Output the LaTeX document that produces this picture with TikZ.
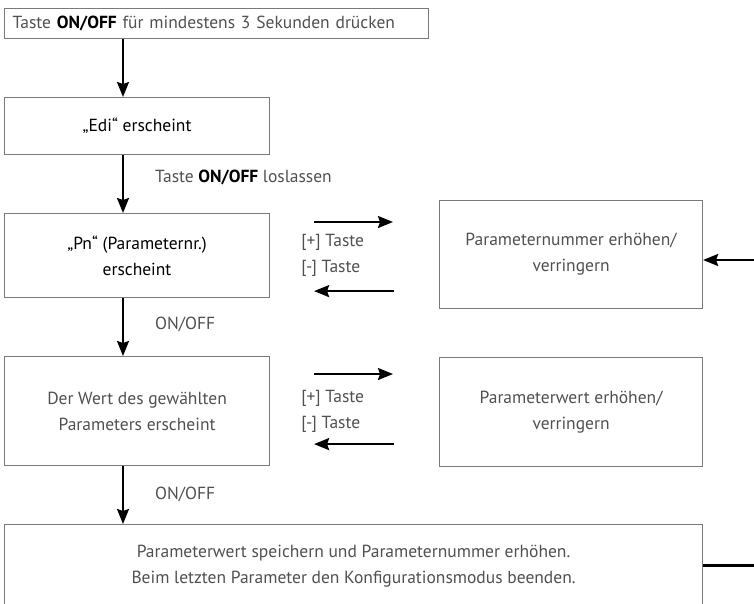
\documentclass[tikz,border=0pt]{standalone}
\usepackage{fontspec}
\setmainfont{PT Sans}
\usepackage{xcolor}
\usetikzlibrary{arrows.meta,positioning}
\definecolor{txtgray}{HTML}{505050}
\definecolor{boxgray}{HTML}{7A7A7A}

\begin{document}
\begin{tikzpicture}[
  x=1pt,y=-1pt,
  box/.style={draw=boxgray,line width=1.1pt,align=center,inner sep=0pt,text=txtgray,font=\fontsize{17.5}{26}\selectfont},
  keybox/.style={box,text=black},
  lbl/.style={inner sep=0pt,align=left,text=txtgray,font=\fontsize{17.5}{26}\selectfont},
  arrow/.style={-{Stealth[length=15pt,width=12pt,inset=2pt]},line width=2pt},
  stub/.style={line width=2.4pt}
]
\useasboundingbox (0,0) rectangle (754,603);
% left column
\node[box,anchor=north west,minimum height=30pt,text width=408pt,inner xsep=8pt,align=left] (start) at (4,8) {Taste \textcolor{black}{\bfseries ON/OFF} für mindestens 3 Sekunden drücken};
\node[keybox,anchor=north west,minimum width=265pt,minimum height=57pt] (edi) at (4,97) {„Edi“ erscheint};
\node[keybox,anchor=north west,minimum width=265pt,minimum height=84pt] (pn) at (4,213) {„Pn“ (Parameternr.)\\erscheint};
\node[box,anchor=north west,minimum width=265pt,minimum height=109pt] (wert) at (4,356) {Der Wert des gewählten\\Parameters erscheint};
\node[box,anchor=north west,minimum width=698pt,minimum height=84pt] (save) at (4,524) {Parameterwert speichern und Parameternummer erhöhen.\\Beim letzten Parameter den Konfigurationsmodus beenden.};
% right column
\node[box,anchor=north west,minimum width=263pt,minimum height=108pt] (pnum) at (439,200) {Parameternummer erhöhen/\\verringern};
\node[box,anchor=north west,minimum width=263pt,minimum height=109pt] (pval) at (439,357) {Parameterwert erhöhen/\\verringern};

% vertical flow
\coordinate (spine) at (123,0);
\foreach \a/\b in {start/edi,edi/pn,pn/wert,wert/save}
  \draw[arrow] (\a.south -| spine) -- (\b.north -| spine);
\node[lbl,anchor=west] (release) at (155,177) {Taste \textcolor{black}{\bfseries ON/OFF} loslassen};
\node[lbl,anchor=west] (onoffa) at (155,324) {ON/OFF};
\node[lbl,anchor=west] (onoffb) at (155,494) {ON/OFF};

% plus / minus keys
\node[lbl,right=31pt of pn] (keysa) {[+] Taste\\{}[-] Taste};
\node[lbl,right=31pt of wert] (keysb) {[+] Taste\\{}[-] Taste};
\foreach \a/\b/\up/\dn in {pn/pnum/9/7,wert/pval/18/22} {
  \draw[arrow,shorten <=44pt,shorten >=46pt] ([yshift=-\up pt]\a.north east) -- ([yshift=-\up pt]\a.north east -| \b.west);
  \draw[arrow,shorten <=45pt,shorten >=44pt] ([yshift=\dn pt]\a.south east -| \b.west) -- ([yshift=\dn pt]\a.south east);
}

% feedback stubs
\coordinate (fbin) at (754,260);
\draw[arrow] (fbin) -- (fbin -| pnum.east);
\coordinate (fbout) at (754,565.5);
\draw[stub] (save.east |- fbout) -- (fbout);
\end{tikzpicture}
\end{document}
